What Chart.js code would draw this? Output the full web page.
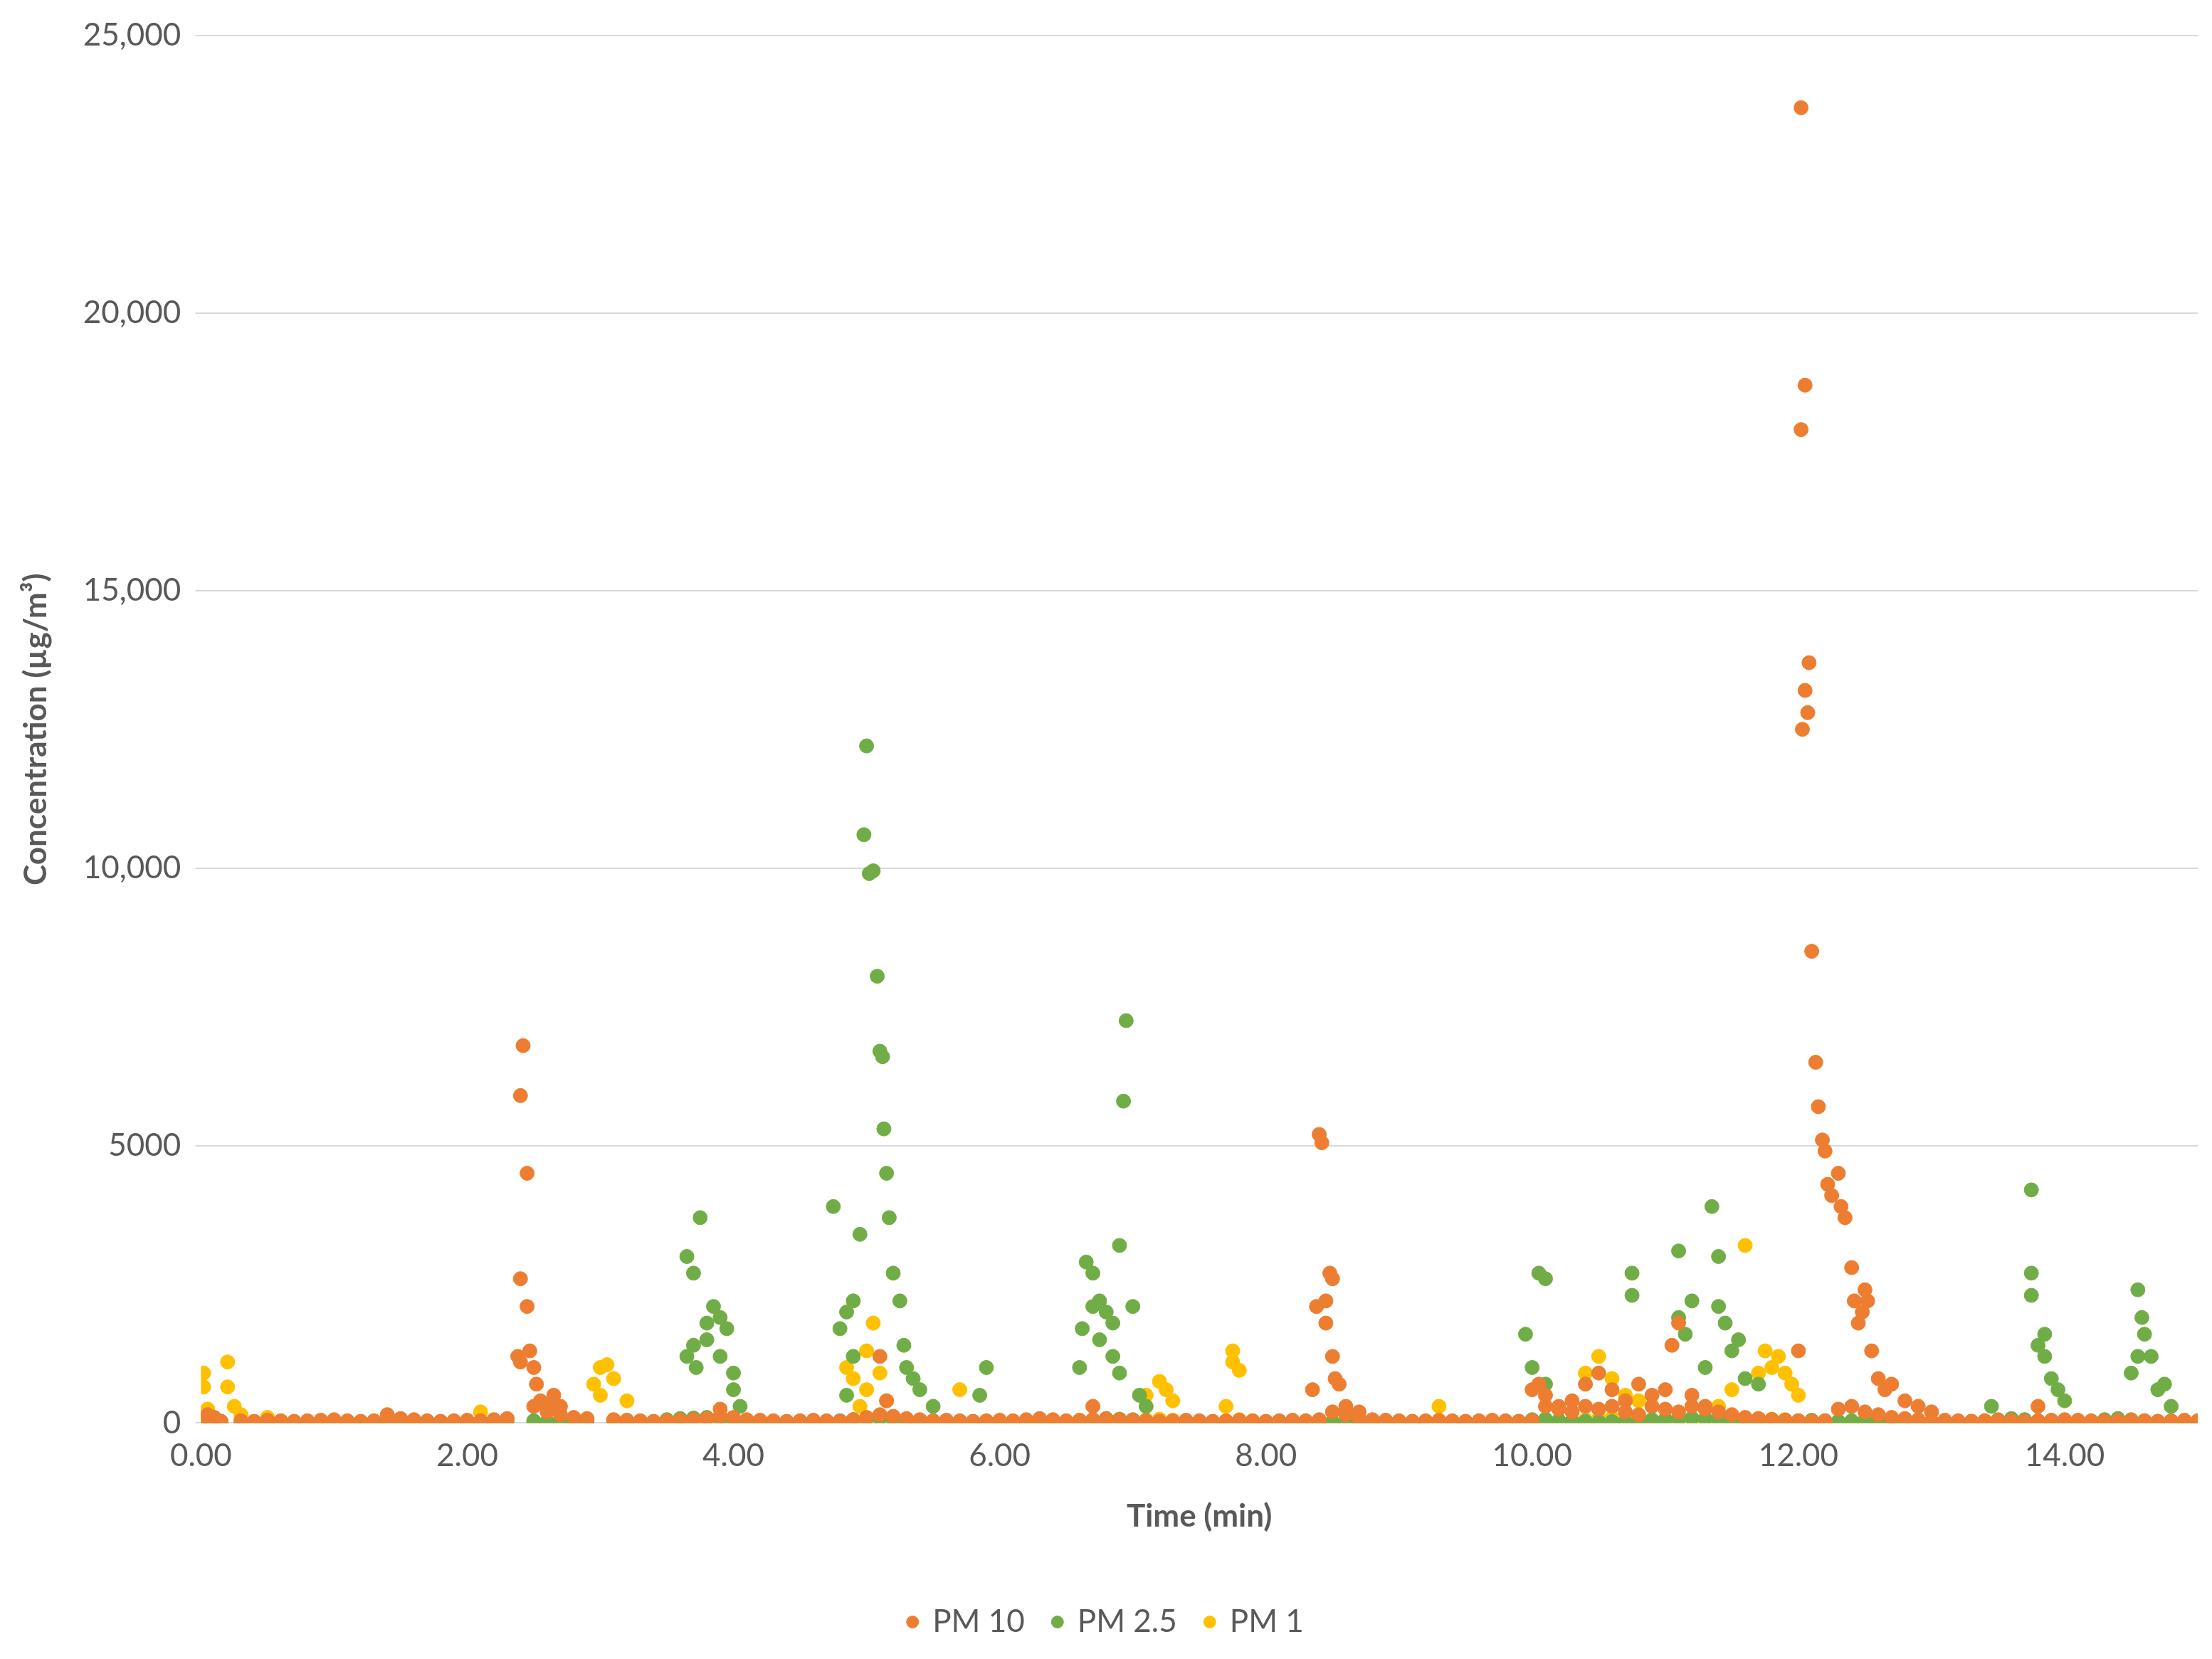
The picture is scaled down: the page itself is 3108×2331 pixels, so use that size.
<!DOCTYPE html>
<html><head><meta charset="utf-8">
<script src="https://cdn.jsdelivr.net/npm/chart.js@4/dist/chart.umd.min.js"></script>
<style>html,body{margin:0;padding:0;background:#fff}#w{width:3108px;height:2331px}</style>
</head><body><div id="w"><canvas id="c"></canvas></div>
<script>
const yTicks=[0,5000,10000,15000,20000,25000];
const xTicks=[0,2,4,6,8,10,12,14];
const baseX=[0,0.08,0.15,0.3,0.4,0.5,0.6,0.7,0.8,0.9,1.0,1.1,1.2,1.3,1.4,1.5,1.6,1.7,1.8,1.9,2.0,2.1,2.2,2.3,2.5,2.6,2.7,2.8,2.9,3.1,3.2,3.3,3.4,3.5,3.6,3.7,3.8,3.9,4.0,4.1,4.2,4.3,4.4,4.5,4.6,4.7,4.8,4.9,5.0,5.1,5.2,5.3,5.4,5.5,5.6,5.7,5.8,5.9,6.0,6.1,6.2,6.3,6.4,6.5,6.6,6.7,6.8,6.9,7.0,7.1,7.2,7.3,7.4,7.5,7.6,7.7,7.8,7.9,8.0,8.1,8.2,8.3,8.4,8.5,8.6,8.7,8.8,8.9,9.0,9.1,9.2,9.3,9.4,9.5,9.6,9.7,9.8,9.9,10.0,10.1,10.2,10.3,10.4,10.5,10.6,10.7,10.8,10.9,11.0,11.1,11.2,11.3,11.4,11.5,11.6,11.7,11.8,11.9,12.0,12.1,12.2,12.3,12.4,12.5,12.6,12.7,12.8,12.9,13.0,13.1,13.2,13.3,13.4,13.5,13.6,13.7,13.8,13.9,14.0,14.1,14.2,14.3,14.4,14.5,14.6,14.7,14.8,14.9,15.0];
const baseY1=[40,30,20,30,25,20,30,20,25,30,20,30,25,20,30,25,20,30,25,20,30,25,20,30,25,20,30,40,60,50,40,30,25,20,30,25,20,30,25,20,30,25,20,30,25,20,30,60,80,70,40,30,25,20,30,25,20,30,25,20,30,25,20,30,25,20,30,25,40,60,70,50,30,25,20,30,60,40,25,20,30,25,20,30,25,20,30,25,20,30,25,40,30,25,20,30,25,20,30,25,20,30,60,80,90,70,50,40,30,60,40,30,50,60,70,80,70,60,40,30,25,20,30,25,20,30,25,20,30,25,20,30,25,20,30,25,20,30,25,20,30,25,20,30,25,20,30,25,20,30];
const baseY25=[30,20,30,20,25,30,20,25,30,20,25,30,20,25,30,20,25,30,20,25,30,20,25,60,40,30,20,25,30,20,25,30,20,60,80,90,100,80,60,40,30,20,25,30,20,25,40,60,80,90,70,60,50,40,30,20,25,30,20,25,30,20,25,30,40,60,80,70,60,40,30,20,25,30,20,25,30,20,25,30,20,25,30,20,25,30,20,25,30,20,25,30,20,25,30,20,25,30,60,70,50,40,30,20,25,30,40,60,70,80,90,80,70,60,50,40,60,50,40,50,40,30,40,50,40,30,20,25,30,20,25,30,40,60,80,60,40,30,20,25,30,60,80,60,40,30,20,25,30];
const baseY10=[60,40,30,40,30,50,40,30,40,50,60,40,30,40,50,80,60,40,30,40,50,40,60,80,300,200,150,100,80,60,50,40,30,40,50,60,80,120,100,60,50,40,30,40,50,40,30,60,100,150,120,80,60,40,50,40,30,40,50,40,60,80,60,40,50,60,80,60,50,40,30,40,50,40,30,40,50,40,30,40,50,40,60,200,150,80,60,50,40,30,40,50,40,30,40,50,40,30,40,300,250,200,300,250,300,200,150,300,250,200,300,250,200,150,100,80,60,50,40,30,40,250,300,200,150,100,80,60,40,50,40,30,40,50,40,30,40,50,60,50,40,30,40,50,40,30,40,50,40,30];
const pm1X=[0.02,0.02,0.05,0.2,0.2,0.25,0.3,0.5,2.1,2.95,3.0,3.05,3.0,3.1,3.2,4.85,4.9,5.0,5.05,5.1,5.0,5.15,4.95,5.7,7.1,7.2,7.25,7.3,7.75,7.75,7.8,7.7,9.3,10.4,10.5,10.6,10.7,10.8,11.6,11.7,11.75,11.8,11.85,11.9,11.95,12.0,11.5,11.4];
const pm1Y=[900,650,250,1100,650,300,150,100,200,700,1000,1050,500,800,400,1000,800,1300,1800,900,600,400,300,600,500,750,600,400,1300,1100,950,300,300,900,1200,800,500,400,3200,900,1300,1000,1200,900,700,500,600,300];
const pm25X=[3.65,3.7,3.75,3.8,3.85,3.9,3.95,3.7,3.65,3.72,3.8,3.9,4.0,4.0,4.05,4.75,4.8,4.85,4.9,4.95,5.0,4.98,5.02,5.05,5.08,5.1,5.12,5.13,5.15,5.17,5.2,5.25,5.28,5.3,5.35,5.4,5.5,5.9,5.85,4.85,4.9,6.6,6.65,6.7,6.75,6.8,6.85,6.9,6.95,6.93,7.0,6.85,6.9,7.05,7.1,6.62,6.7,6.75,9.95,10.0,10.05,10.1,10.1,10.75,10.75,11.1,11.1,11.15,11.2,11.3,11.35,11.4,11.4,11.45,11.5,11.55,11.6,11.7,13.45,13.75,13.75,13.75,13.8,13.85,13.85,13.9,13.95,14.0,14.5,14.55,14.55,14.58,14.6,14.65,14.7,14.75,14.8];
const pm25Y=[3000,2700,3700,1800,2100,1900,1700,1400,1200,1000,1500,1200,900,600,300,3900,1700,2000,2200,3400,12200,10600,9900,9950,8050,6700,6600,5300,4500,3700,2700,2200,1400,1000,800,600,300,1000,500,500,1200,1000,2900,2700,2200,2000,1800,3200,7250,5800,2100,1200,900,500,300,1700,2100,1500,1600,1000,2700,2600,700,2700,2300,3100,1900,1600,2200,1000,3900,3000,2100,1800,1300,1500,800,700,300,4200,2700,2300,1400,1600,1200,800,600,400,900,1200,2400,1900,1600,1200,600,700,300];
const pm10X=[2.38,2.4,2.42,2.4,2.45,2.45,2.47,2.5,2.52,2.55,2.6,2.65,2.7,2.4,8.35,8.38,8.4,8.42,8.45,8.45,8.48,8.5,8.5,8.52,8.55,8.6,8.7,10.0,10.05,10.1,10.2,10.3,10.4,10.5,10.6,10.7,10.8,10.9,11.0,11.05,11.1,11.2,11.3,12.0,12.02,12.05,12.02,12.08,12.05,12.07,12.03,12.1,12.13,12.15,12.18,12.2,12.22,12.25,12.3,12.32,12.35,12.4,12.42,12.45,12.48,12.5,12.52,12.55,12.6,12.65,12.7,12.8,12.9,13.0,13.8,0.05,0.1,1.4,3.9,5.1,5.15,6.7];
const pm10Y=[1200,2600,6800,5900,4500,2100,1300,1000,700,400,300,500,300,1100,600,2100,5200,5050,2200,1800,2700,2600,1200,800,700,300,200,600,700,500,300,400,700,900,600,400,700,500,600,1400,1800,500,300,1300,23700,18700,17900,13700,13200,12800,12500,8500,6500,5700,5100,4900,4300,4100,4500,3900,3700,2800,2200,1800,2000,2400,2200,1300,800,600,700,400,300,200,300,150,100,150,250,1200,400,300];
function pts(xs,ys,bx,by){const a=xs.map((x,i)=>({x,y:ys[i]}));bx.forEach((x,i)=>a.push({x,y:by[i]}));return a;}
const F="Lato, 'Open Sans', sans-serif", G='#595959';
new Chart(document.getElementById('c'),{type:'scatter',
data:{datasets:[
{label:'PM 1',data:pts(pm1X,pm1Y,baseX,baseY1),backgroundColor:'#FFC000',borderColor:'#FFC000',pointRadius:10,order:3},
{label:'PM 2.5',data:pts(pm25X,pm25Y,baseX,baseY25),backgroundColor:'#70AD47',borderColor:'#70AD47',pointRadius:10,order:2},
{label:'PM 10',data:pts(pm10X,pm10Y,baseX,baseY10),backgroundColor:'#ED7D31',borderColor:'#ED7D31',pointRadius:10,order:1}]},
options:{responsive:true,maintainAspectRatio:false,animation:false,
layout:{padding:{left:20,right:20,top:50,bottom:20}},
plugins:{legend:{position:'bottom',labels:{usePointStyle:true,pointStyle:'circle',boxWidth:12,boxHeight:12,padding:40,color:G,font:{family:F,size:44}}},tooltip:{enabled:false}},
scales:{
x:{type:'linear',min:0,max:15,afterBuildTicks:s=>{s.ticks=xTicks.map(v=>({value:v}))},
ticks:{color:G,font:{family:F,size:44},padding:12,callback:v=>v.toFixed(2)},
grid:{display:false},border:{color:'#d9d9d9',width:2},
title:{display:true,text:'Time (min)',color:G,font:{family:F,size:44,weight:'bold'},padding:{top:20,bottom:60}}},
y:{min:0,max:25000,afterBuildTicks:s=>{s.ticks=yTicks.map(v=>({value:v}))},
ticks:{color:G,font:{family:F,size:44},padding:20,callback:v=>v>=10000?v.toLocaleString('en-US'):String(v)},
grid:{color:'#d9d9d9',lineWidth:2},border:{display:false},
title:{display:true,text:'Concentration (µg/m³)',color:G,font:{family:F,size:44,weight:'bold'},padding:{bottom:20}}}}}});
</script></body></html>
